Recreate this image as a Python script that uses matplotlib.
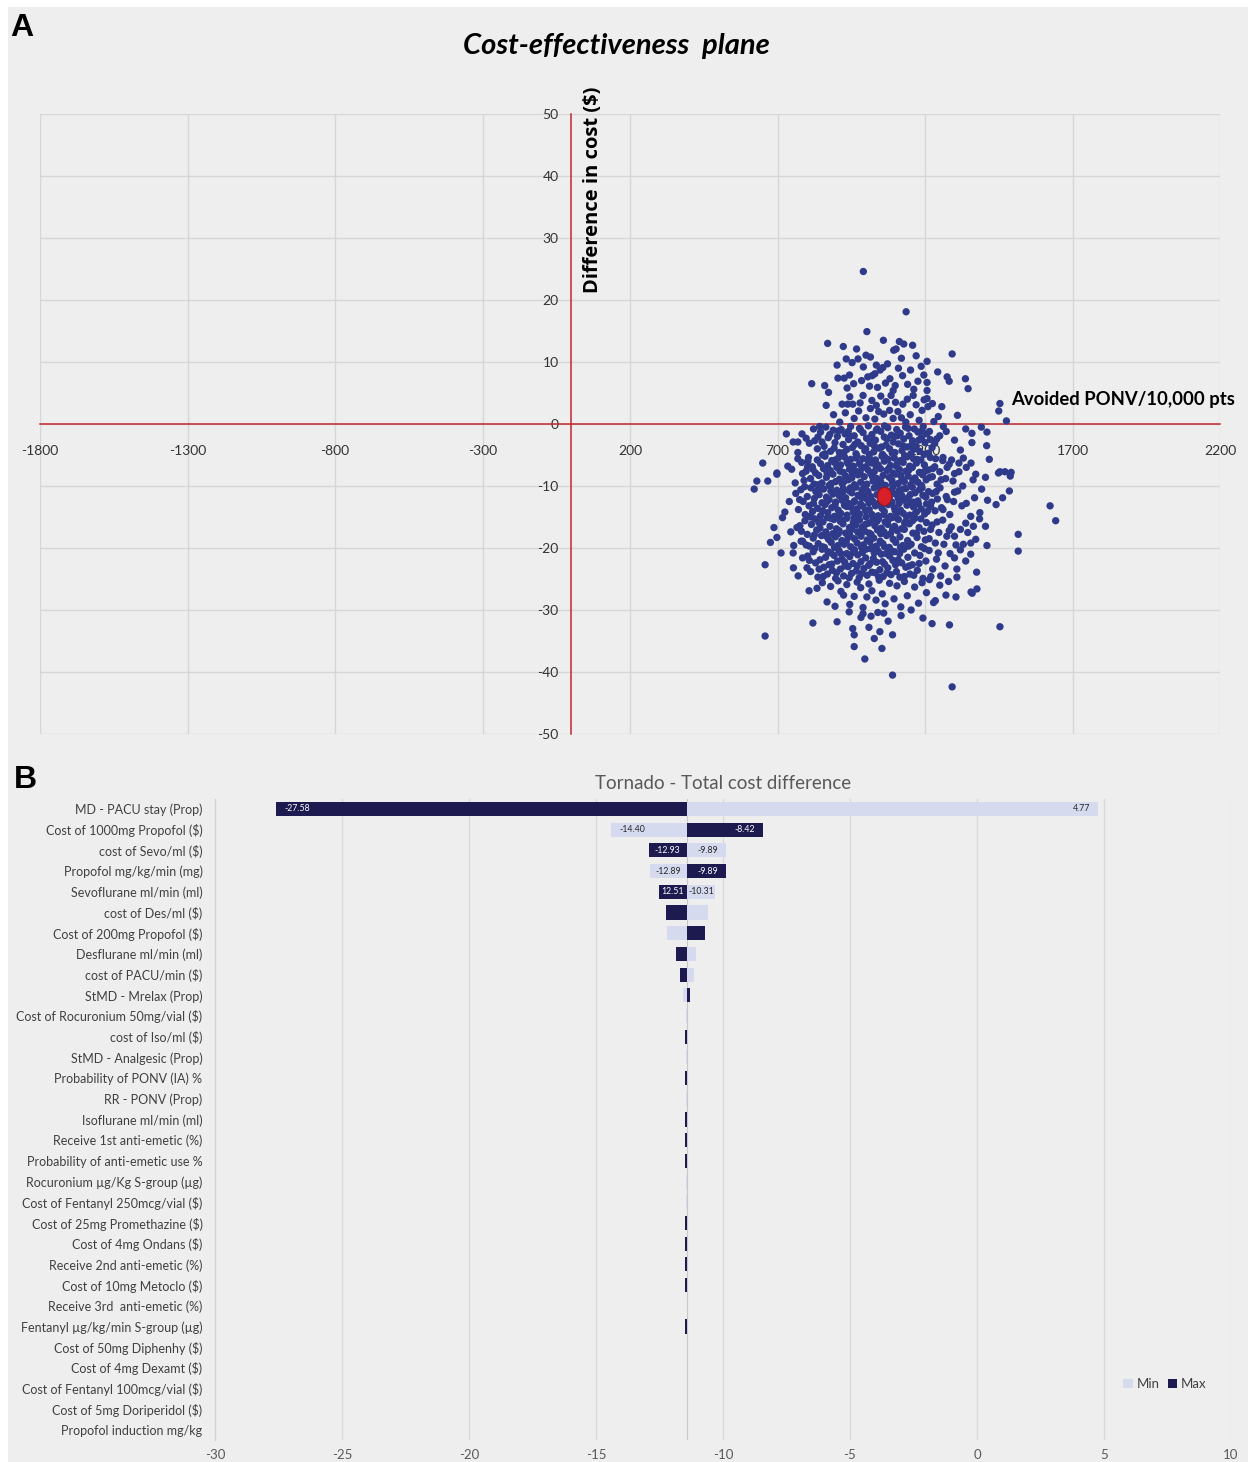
import numpy as np
import matplotlib
matplotlib.use("Agg")
import matplotlib.pyplot as plt
from matplotlib.path import Path
from matplotlib.transforms import Affine2D
from matplotlib.patches import Rectangle

plt.rcParams["axes.unicode_minus"] = False

# ---------------- DATA: cost-effectiveness plane (avoided PONV / 10,000 pts, difference in cost $) -------------
pts_above5 = [(991,24.6),(1136,18.1),(1003,14.9),(870,13.0),(923,12.5),(968,12.1),(1059,13.5),(1094,11.9),
    (1113,13.3),(1128,12.9),(1158,12.7),(1102,12.1),(1292,11.3),(1207,10.1),(933,10.5),(973,10.5),(1000,11.1),
    (902,9.5),(991,9.2),(1035,9.5),(1048,8.7),(905,7.4),(816,6.5),(860,6.2),(873,5.1),(1243,8.4),(1275,7.6),
    (1282,6.9),(1337,7.3),(1346,5.7),(926,7.4),(944,7.9),(936,5.8),(958,6.5),(1006,7.6),(1021,7.8),(1012,6.1),
    (1039,5.9),(1066,6.6),(1081,7.3),(1092,5.4),(1057,9.1),(1073,9.7),(1110,9.0),(1124,7.8),(1141,6.4),
    (1162,5.6),(1176,6.9),(1196,7.9),(1207,6.7),(1207,5.4),(1151,8.7),(1120,10.6),(985,7.0),(1030,8.1),
    (1099,6.2),(1187,9.3),(953,9.9),(1015,10.8),(1170,11.0)]
pts_0_5 = [(865,3.0),(919,3.2),(938,3.2),(955,3.2),(911,0.3),(1257,2.8),(1310,1.4),(1454,3.3),(1450,2.1),
    (1476,0.5),(1207,4.1),(1210,2.8),(1140,4.0),(1170,3.1),(1150,1.5),(1100,3.5),(1080,2.2),(1050,4.5),
    (1020,3.8),(990,4.6),(975,2.1),(1000,1.0),(1030,0.8),(1060,1.6),(1120,1.0),(1180,0.6),(1230,0.4),
    (960,0.9),(890,1.5),(945,4.4),(1015,2.5),(1085,4.6),(1190,2.2),(1125,3.2),(1035,3.0),(1068,3.6),
    (1108,2.0),(1160,4.6),(1197,3.9),(1135,0.3),(930,1.8),(1245,1.2),(1043,2.0),(1092,0.9),(980,3.4),(1225,3.3)]
pts_m5_0 = [(730,-1.6),(753,-2.9),(769,-2.9),(783,-1.6),(797,-2.3),(808,-3.1),(837,-2.1),(851,-2.9),
    (769,-4.6),(1391,-0.5),(1410,-1.3),(1359,-1.5),(1359,-3.0),(1409,-3.5),(1262,-0.4),(1250,-1.9),
    (1272,-1.2),(1240,-2.4),(1300,-2.6),(1320,-4.2),(1338,-0.8),
    (822,-0.8),(835,-4.0),(846,-1.3),(858,-3.6),(864,-0.5),(872,-2.2),(880,-4.4),(889,-1.0),(895,-3.0),
    (903,-2.0),(910,-4.6),(916,-0.9),(922,-3.3),(929,-1.6),(935,-4.1),(941,-2.5),(948,-0.4),(954,-3.8),
    (960,-1.9),(966,-4.8),(972,-2.9),(978,-0.7),(984,-3.5),(990,-1.4),(996,-4.3),(1002,-2.3),(1008,-0.3),
    (1014,-3.1),(1020,-1.7),(1026,-4.5),(1032,-2.6),(1038,-0.8),(1044,-3.9),(1050,-1.2),(1056,-4.9),
    (1062,-2.1),(1068,-3.4),(1074,-0.6),(1080,-4.0),(1086,-1.8),(1092,-2.9),(1098,-4.6),(1104,-0.9),
    (1110,-3.2),(1116,-1.5),(1122,-4.3),(1128,-2.4),(1134,-0.5),(1140,-3.7),(1146,-1.9),(1152,-4.8),
    (1158,-2.7),(1164,-0.8),(1170,-3.6),(1176,-1.3),(1182,-4.4),(1188,-2.2),(1194,-0.4),(1200,-3.0),
    (1206,-1.6),(1212,-4.7),(1218,-2.5),(1224,-3.8),(1190,-1.1),(1097,-2.0),(1011,-4.9),(940,-1.2),
    (1063,-0.3),(1156,-3.3),(1029,-3.6)]
pts_m10_m5 = [(782,-6.2),(790,-9.1),(797,-7.6),(805,-5.4),(812,-8.8),(818,-6.9),(824,-9.7),(829,-7.9),
    (835,-5.8),(840,-8.3),(846,-6.4),(851,-9.5),(856,-7.2),(861,-5.2),(866,-8.6),(870,-6.7),(875,-9.9),
    (879,-7.5),(884,-5.9),(888,-8.1),(893,-6.2),(897,-9.3),(901,-7.0),(906,-5.5),(910,-8.9),(914,-6.6),
    (919,-9.6),(923,-7.8),(927,-5.3),(931,-8.4),(936,-6.1),(940,-9.0),(944,-7.3),(948,-5.7),(952,-8.7),
    (957,-6.8),(961,-9.8),(965,-7.6),(969,-5.1),(973,-8.2),(978,-6.4),(982,-9.4),(986,-7.1),(990,-5.6),
    (994,-8.5),(999,-6.9),(1003,-9.7),(1007,-7.4),(1011,-5.4),(1016,-8.0),(1020,-6.3),(1024,-9.2),
    (1028,-7.7),(1032,-5.8),(1037,-8.8),(1041,-6.6),(1045,-9.5),(1049,-7.2),(1054,-5.2),(1058,-8.3),
    (1062,-6.0),(1066,-9.9),(1071,-7.5),(1075,-5.7),(1079,-8.6),(1083,-6.7),(1088,-9.1),(1092,-7.9),
    (1096,-5.5),(1100,-8.1),(1105,-6.5),(1109,-9.6),(1113,-7.3),(1117,-5.9),(1122,-8.9),(1126,-6.2),
    (1130,-9.3),(1135,-7.6),(1139,-5.3),(1143,-8.4),(1148,-6.8),(1152,-9.8),(1157,-7.0),(1161,-5.6),
    (1166,-8.7),(1171,-6.3),(1176,-9.4),(1181,-7.8),(1186,-5.8),(1192,-8.2),(1198,-6.6),(1204,-9.0),
    (1211,-7.4),(1218,-5.4),(1225,-8.5),(1233,-6.9),(1241,-9.7),(1250,-7.7),(1260,-5.9),(1270,-8.8),
    (1282,-6.5),(1295,-9.2),(1226,-7.2),(1188,-7.9),
    (650,-6.3),(698,-7.9),(748,-7.3),(769,-5.6),(802,-6.9),(630,-9.2),(667,-9.2),(698,-8.1),(1418,-5.7),
    (1356,-6.3),(1315,-6.3),(1454,-7.7),(1471,-7.7),(1492,-7.8),(1489,-8.4),(1449,-7.9),(1405,-8.6),
    (1363,-9.0),(1315,-7.7),(1261,-5.4),(1372,-8.1),(1340,-7.0),(1330,-5.5),(760,-9.5),(735,-6.8),(1300,-8.0)]
pts_m15_m10 = [(762,-11.2),(771,-13.8),(779,-10.6),(787,-12.5),(794,-14.6),(801,-11.7),(807,-13.2),
    (813,-10.3),(819,-14.1),(825,-12.0),(830,-10.9),(836,-13.6),(841,-11.4),(846,-14.8),(851,-12.7),
    (856,-10.5),(861,-13.0),(866,-11.8),(870,-14.3),(875,-12.2),(879,-10.1),(884,-13.5),(888,-11.3),
    (893,-14.9),(897,-12.6),(901,-10.7),(906,-13.9),(910,-11.6),(914,-14.4),(919,-12.3),(923,-10.4),
    (927,-13.1),(931,-11.9),(936,-14.7),(940,-12.8),(944,-10.8),(948,-13.4),(952,-11.1),(957,-14.2),
    (961,-12.4),(965,-10.2),(969,-13.7),(973,-11.5),(978,-14.5),(982,-12.9),(986,-10.6),(990,-13.3),
    (994,-11.2),(999,-14.0),(1003,-12.1),(1007,-10.9),(1011,-13.8),(1016,-11.7),(1020,-14.6),(1024,-12.5),
    (1028,-10.3),(1032,-13.2),(1037,-11.4),(1041,-14.8),(1045,-12.7),(1049,-10.5),(1054,-13.6),(1058,-11.0),
    (1062,-14.1),(1066,-12.2),(1071,-10.8),(1075,-13.0),(1079,-11.8),(1083,-14.9),(1088,-12.6),(1092,-10.1),
    (1096,-13.5),(1100,-11.3),(1105,-14.3),(1109,-12.0),(1113,-10.7),(1117,-13.9),(1122,-11.6),(1126,-14.4),
    (1130,-12.3),(1135,-10.4),(1139,-13.1),(1143,-11.9),(1148,-14.7),(1152,-12.8),(1157,-10.2),(1161,-13.4),
    (1166,-11.1),(1171,-14.2),(1176,-12.4),(1181,-10.6),(1187,-13.7),(1193,-11.5),(1199,-14.5),(1205,-12.9),
    (1212,-10.9),(1219,-13.3),(1226,-11.2),(1234,-14.0),(1242,-12.1),(1251,-10.3),(1261,-13.8),(1272,-11.7),
    (1284,-14.6),(1297,-12.5),(1311,-10.8),(1325,-13.2),(1203,-11.8),(1160,-12.6),
    (621,-10.5),(1624,-13.2),(1441,-13.0),(1463,-11.9),(1486,-10.8),(1392,-10.5),(1368,-11.9),(1386,-14.3),
    (1340,-12.8),(1355,-14.9),(1412,-12.3),(1328,-10.0),(740,-12.5),(725,-14.2),(1045,-11.6)]
pts_m20_m15 = [(776,-16.4),(785,-18.9),(793,-15.6),(801,-17.8),(808,-19.7),(815,-16.2),(821,-18.4),
    (827,-15.3),(833,-17.1),(838,-19.3),(844,-16.8),(849,-18.0),(854,-15.8),(859,-19.9),(864,-17.4),
    (869,-15.1),(873,-18.6),(878,-16.5),(882,-19.1),(887,-17.7),(891,-15.4),(896,-18.2),(900,-16.9),
    (905,-19.6),(909,-17.2),(913,-15.7),(918,-18.8),(922,-16.1),(926,-19.4),(931,-17.6),(935,-15.2),
    (939,-18.3),(944,-16.7),(948,-19.8),(952,-17.0),(957,-15.9),(961,-18.5),(965,-16.3),(970,-19.2),
    (974,-17.5),(978,-15.5),(983,-18.1),(987,-16.6),(991,-19.5),(996,-17.3),(1000,-15.0),(1004,-18.7),
    (1009,-16.0),(1013,-19.0),(1017,-17.8),(1022,-15.6),(1026,-18.4),(1030,-16.4),(1035,-19.7),(1039,-17.1),
    (1043,-15.3),(1048,-18.9),(1052,-16.8),(1057,-19.3),(1061,-17.4),(1065,-15.8),(1070,-18.0),(1074,-16.2),
    (1079,-19.9),(1083,-17.7),(1088,-15.1),(1092,-18.6),(1097,-16.5),(1101,-19.1),(1106,-17.2),(1110,-15.4),
    (1115,-18.2),(1120,-16.9),(1125,-19.6),(1130,-17.0),(1135,-15.7),(1141,-18.8),(1147,-16.1),(1153,-19.4),
    (1159,-17.6),(1166,-15.2),(1173,-18.3),(1180,-16.7),(1188,-19.8),(1196,-17.3),(1205,-15.9),(1214,-18.5),
    (1224,-16.3),(1235,-19.2),(1247,-17.5),(1260,-15.5),(1274,-18.1),(1289,-16.6),(1305,-19.5),(1320,-17.0),
    (717,-15.1),(688,-16.7),(698,-18.3),(676,-19.1),(766,-16.7),(780,-18.9),(1643,-15.6),(1516,-17.8),
    (1405,-16.5),(1364,-16.5),(1338,-16.0),(1300,-18.1),(1330,-19.4),(1355,-19.2),(1345,-17.5),(1372,-18.6),
    (1410,-19.6),(1385,-15.3),(745,-17.4),(755,-19.6)]
pts_m25_m20 = [(802,-21.3),(812,-23.8),(821,-20.6),(829,-22.4),(837,-24.7),(844,-21.9),(851,-20.2),
    (857,-23.1),(863,-21.5),(869,-24.2),(875,-22.7),(881,-20.8),(886,-23.6),(892,-21.2),(897,-24.9),
    (903,-22.1),(908,-20.4),(913,-23.4),(919,-21.8),(924,-24.5),(929,-22.9),(935,-20.9),(940,-23.0),
    (945,-21.4),(951,-24.1),(956,-22.5),(961,-20.3),(967,-23.7),(972,-21.1),(977,-24.8),(983,-22.2),
    (988,-20.7),(993,-23.3),(999,-21.6),(1004,-24.4),(1009,-22.8),(1015,-20.1),(1020,-23.9),(1025,-21.7),
    (1031,-24.0),(1036,-22.3),(1041,-20.5),(1047,-23.5),(1052,-21.0),(1058,-24.6),(1063,-22.6),(1069,-20.9),
    (1074,-23.2),(1080,-21.3),(1085,-24.3),(1091,-22.0),(1097,-20.6),(1103,-23.8),(1109,-21.9),(1115,-24.7),
    (1121,-22.4),(1128,-20.2),(1135,-23.1),(1142,-21.5),(1149,-24.2),(1157,-22.7),(1165,-20.8),(1174,-23.6),
    (1183,-21.2),(1193,-24.9),(1203,-22.1),(1214,-20.4),(1226,-23.4),(1239,-21.8),(1253,-24.5),(1268,-22.9),
    (1285,-20.9),(712,-20.8),(658,-22.7),(753,-20.8),(754,-23.2),(800,-23.2),(785,-21.6),(1516,-20.5),
    (1338,-22.1),(1300,-21.6),(1308,-23.4),(1308,-24.7),(1320,-20.3),(1355,-21.0),(1375,-23.9),(770,-24.5)]
pts_m30_m25 = [(807,-26.9),(834,-26.5),(924,-27.6),(960,-27.8),(982,-26.4),(1003,-27.9),(1034,-28.4),
    (1229,-28.8),(1271,-27.6),(1305,-27.9),(1356,-27.1),(1376,-26.6),(1360,-27.3),(1235,-28.5),
    (852,-25.6),(868,-28.7),(880,-26.2),(895,-29.4),(905,-25.3),(915,-27.0),(935,-25.9),(945,-29.1),
    (970,-25.5),(990,-29.6),(1010,-25.8),(1020,-26.9),(1045,-25.2),(1055,-27.4),(1065,-29.0),(1080,-25.7),
    (1095,-28.2),(1105,-26.1),(1118,-29.5),(1130,-25.4),(1140,-27.7),(1165,-26.3),(1178,-28.9),(1190,-25.6),
    (1205,-27.2),(1215,-25.1),(1250,-26.0),(1280,-25.4)]
pts_below30 = [(820,-32.1),(658,-34.2),(902,-31.9),(943,-30.3),(983,-31.2),(960,-34.0),(960,-35.9),
    (996,-37.9),(1017,-31.0),(1047,-33.5),(1028,-34.6),(1054,-36.2),(1090,-34.0),(1090,-40.5),(1454,-32.7),
    (1292,-42.4),(1283,-32.4),(1224,-32.2),(1193,-31.3),(1119,-30.9),(1153,-30.0),(1060,-30.5),(1010,-32.8),
    (1075,-31.8),(955,-33.0),(1040,-30.4),(990,-30.6)]
pts_core_extra = [(826,-2.7),(843,-0.4),(861,-4.8),(877,-1.7),(892,-3.9),(907,-1.1),(925,-4.6),(944,-2.0),
    (962,-3.3),(981,-0.9),(999,-4.0),(1017,-2.8),(1035,-1.0),(1053,-3.7),(1071,-2.4),(1089,-4.7),(1107,-1.9),
    (1125,-3.5),(1143,-0.7),(1161,-4.1),(1179,-2.6),(1197,-4.9),(1215,-1.2),(1233,-3.1),
    (785,-8.0),(803,-6.0),(820,-7.3),(838,-9.8),(853,-5.0),(868,-7.9),(882,-9.6),(896,-5.8),(912,-7.6),
    (925,-9.3),(939,-6.4),(954,-8.0),(967,-5.5),(980,-7.8),(996,-9.9),(1009,-6.2),(1022,-8.5),(1035,-7.0),
    (1050,-9.3),(1063,-5.3),(1077,-7.2),(1090,-9.7),(1103,-6.8),(1118,-8.3),(1131,-5.1),(1146,-7.4),
    (1159,-9.1),(1173,-5.7),(1188,-9.9),(1200,-7.6),(1216,-8.6),(1236,-5.6),(1255,-9.0),(1275,-7.0),(1290,-5.8),
    (775,-12.2),(792,-10.1),(809,-14.9),(822,-12.8),(838,-10.6),(853,-14.0),(868,-12.5),(881,-10.8),
    (895,-13.1),(908,-14.8),(921,-11.0),(934,-13.3),(947,-10.3),(959,-12.6),(972,-14.8),(985,-11.9),
    (998,-10.4),(1010,-12.7),(1023,-14.9),(1036,-10.1),(1048,-13.0),(1061,-14.6),(1074,-12.0),(1087,-10.7),
    (1099,-14.0),(1112,-12.8),(1125,-10.5),(1137,-14.9),(1150,-11.4),(1163,-14.6),(1178,-12.9),(1190,-10.3),
    (1208,-14.1),(1222,-12.6),(1238,-10.9),(1256,-13.5),(1276,-12.2),(1300,-11.0),
    (781,-17.3),(797,-19.5),(812,-15.0),(825,-17.9),(840,-15.9),(852,-19.8),(866,-18.1),(880,-15.2),
    (893,-19.9),(906,-17.7),(920,-15.5),(933,-19.0),(946,-18.0),(959,-15.2),(972,-17.4),(985,-19.9),
    (998,-16.2),(1011,-17.6),(1024,-19.9),(1037,-15.7),(1050,-17.7),(1063,-19.8),(1076,-15.4),(1090,-17.0),
    (1103,-15.1),(1117,-19.9),(1131,-16.0),(1144,-19.7),(1158,-15.6),(1171,-17.6),(1186,-15.3),(1201,-18.7),
    (1219,-17.0),(1241,-15.8),(1264,-19.4),(1282,-17.2),
    (808,-22.0),(826,-20.1),(841,-23.4),(855,-24.6),(871,-20.6),(884,-22.6),(900,-24.0),(915,-20.9),
    (928,-22.3),(943,-24.8),(957,-20.7),(970,-22.9),(986,-24.1),(1000,-20.2),(1014,-22.5),(1028,-20.8),
    (1043,-24.7),(1056,-22.2),(1071,-24.0),(1085,-20.4),(1100,-22.7),(1114,-20.9),(1130,-24.6),(1146,-22.9),
    (1162,-24.4),(1180,-22.5),(1198,-20.1),(1220,-24.6),(1245,-20.8)]
mean_point = (1061, -11.6)

x_ticks_ce = [-1800, -1300, -800, -300, 200, 700, 1200, 1700, 2200]
y_ticks_ce = [-50, -40, -30, -20, -10, 0, 10, 20, 30, 40, 50]

# ---------------- DATA: tornado ----------------
params = ["MD - PACU stay (Prop)", "Cost of 1000mg Propofol ($)", "cost of Sevo/ml ($)",
    "Propofol mg/kg/min (mg)", "Sevoflurane ml/min (ml)", "cost of Des/ml ($)", "Cost of 200mg Propofol ($)",
    "Desflurane ml/min (ml)", "cost of PACU/min ($)", "StMD - Mrelax (Prop)", "Cost of Rocuronium 50mg/vial ($)",
    "cost of Iso/ml ($)", "StMD - Analgesic (Prop)", "Probability of PONV (IA) %", "RR - PONV (Prop)",
    "Isoflurane ml/min (ml)", "Receive 1st anti-emetic (%)", "Probability of anti-emetic use %",
    "Rocuronium µg/Kg S-group (µg)", "Cost of Fentanyl 250mcg/vial ($)", "Cost of 25mg Promethazine ($)",
    "Cost of 4mg Ondans ($)", "Receive 2nd anti-emetic (%)", "Cost of 10mg Metoclo ($)",
    "Receive 3rd  anti-emetic (%)", "Fentanyl µg/kg/min S-group (µg)", "Cost of 50mg Diphenhy ($)",
    "Cost of 4mg Dexamt ($)", "Cost of Fentanyl 100mcg/vial ($)", "Cost of 5mg Doriperidol ($)",
    "Propofol induction mg/kg"]
base_cost = -11.43
min_vals = [4.77, -14.40, -9.89, -12.89, -10.31, -10.60, -12.20, -11.05, -11.14, -11.58,
            -11.47, -11.41, -11.47, -11.41, -11.47, -11.41, -11.41, -11.41, -11.47, -11.47,
            -11.41, -11.41, -11.41, -11.41, -11.43, -11.41, -11.43, -11.43, -11.43, -11.43, -11.43]
max_vals = [-27.58, -8.42, -12.93, -9.89, -12.51, -12.24, -10.69, -11.86, -11.71, -11.31,
            -11.41, -11.48, -11.41, -11.48, -11.41, -11.48, -11.48, -11.48, -11.41, -11.41,
            -11.48, -11.48, -11.48, -11.48, -11.43, -11.48, -11.43, -11.43, -11.43, -11.43, -11.43]
min_labels = ["4.77", "-14.40", "-9.89", "-12.89", "-10.31"]
max_labels = ["-27.58", "-8.42", "-12.93", "-9.89", "12.51"]
x_ticks_tor = [-30, -25, -20, -15, -10, -5, 0, 5, 10]

# ---------------- STYLE ----------------
W, H = 1248, 1462
BG = "#EEEEEE"
CAL = ["Lato", "DejaVu Sans"]
OPEN = ["Open Sans", "DejaVu Sans"]
DOT = "#2F3B8A"
REDLINE = "#C0272D"
GRID = "#D6D6D6"
LIGHT = "#D5DAEE"
DARK = "#1C1A4E"

fig = plt.figure(figsize=(W / 100, H / 100), dpi=100, facecolor="white")
fig.patches.append(Rectangle((8 / W, 0), 1 - 8 / W, 1 - 7 / H, transform=fig.transFigure,
                             facecolor=BG, edgecolor="none", zorder=-10))

def fx(px):
    return px / W

def fy(py):
    return 1 - py / H

# ---------------- Panel A ----------------
ax = fig.add_axes([fx(40), fy(734), (1220 - 40) / W, (734 - 114) / H])
ax.set_facecolor("none")
ax.set_xlim(x_ticks_ce[0], x_ticks_ce[-1])
ax.set_ylim(y_ticks_ce[0], y_ticks_ce[-1])
ax.set_xticks(x_ticks_ce)
ax.set_yticks(y_ticks_ce)
ax.grid(True, color=GRID, lw=1.0, zorder=0)
for gl in ax.get_xgridlines() + ax.get_ygridlines():
    gl.set_clip_on(False)
for s in ["top", "right"]:
    ax.spines[s].set_visible(False)
ax.spines["bottom"].set_position(("data", 0))
ax.spines["left"].set_position(("data", 0))
for s in ["bottom", "left"]:
    ax.spines[s].set_color(REDLINE)
    ax.spines[s].set_linewidth(1.1)
    ax.spines[s].set_zorder(2.2)
ax.tick_params(axis="both", length=0, labelsize=10, labelcolor="#333333")
ax.tick_params(axis="x", pad=15)
ax.tick_params(axis="y", pad=9)
for lab in ax.get_xticklabels() + ax.get_yticklabels():
    lab.set_family(CAL)

all_pts = np.array(pts_above5 + pts_0_5 + pts_m5_0 + pts_m10_m5 + pts_m15_m10 + pts_m20_m15 +
                   pts_m25_m20 + pts_m30_m25 + pts_below30 + pts_core_extra, dtype=float)
ax.scatter(all_pts[:, 0], all_pts[:, 1], s=28, color=DOT, edgecolors="none", zorder=3, clip_on=False)
ell = Path.unit_circle().transformed(Affine2D().scale(0.78, 1.0))
ax.scatter([mean_point[0]], [mean_point[1]], marker=ell, s=170, color="#D8202A",
           edgecolors="#A5141B", linewidths=0.8, zorder=5)

fig.text(fx(616), fy(46), "Cost-effectiveness  plane", fontsize=21, fontweight="bold", fontstyle="italic",
         family=CAL, ha="center", va="center", color="black")
fig.text(fx(22), fy(28), "A", fontsize=23, fontweight="bold", family=["Liberation Sans", "DejaVu Sans"],
         ha="center", va="center")
fig.text(fx(593), fy(190), "Difference in cost ($)", rotation=90, fontsize=14.5, fontweight="bold",
         family=OPEN, ha="center", va="center")
fig.text(fx(1123), fy(400), "Avoided PONV/10,000 pts", fontsize=13.3, fontweight="bold",
         family=CAL, ha="center", va="center")

# ---------------- Panel B ----------------
fig.text(fx(25), fy(780), "B", fontsize=23, fontweight="bold", family=["Liberation Sans", "DejaVu Sans"],
         ha="center", va="center")
bx = fig.add_axes([fx(215), fy(1440.4), (1231 - 215) / W, (1440.4 - 798.6) / H])
bx.set_facecolor("none")
n = len(params)
ypos = np.arange(n)
bar_h = 0.68
mins = np.array(min_vals)
maxs = np.array(max_vals)
bx.barh(ypos, mins - base_cost, left=base_cost, height=bar_h, color=LIGHT, label="Min", zorder=3)
bx.barh(ypos, maxs - base_cost, left=base_cost, height=bar_h, color=DARK, label="Max", zorder=3)
bx.axvline(base_cost, color="#C8C8C8", lw=0.8, zorder=2)
bx.set_xlim(x_ticks_tor[0], x_ticks_tor[-1])
bx.set_ylim(n - 0.5, -0.5)
bx.set_xticks(x_ticks_tor)
bx.set_yticks(ypos)
bx.set_yticklabels(params, family=CAL, fontsize=9, color="#404040")
bx.tick_params(axis="y", length=0, pad=9)
bx.tick_params(axis="x", length=0, pad=6, labelsize=9.5, labelcolor="#595959")
for lab in bx.get_xticklabels():
    lab.set_family(CAL)
bx.grid(True, axis="x", color="#D9D9D9", lw=0.9, zorder=0)
for s in ["top", "right", "bottom"]:
    bx.spines[s].set_visible(False)
bx.spines["left"].set_color("#D0D0D0")
bx.spines["left"].set_linewidth(0.9)
bx.set_title("Tornado - Total cost difference", family=CAL, fontsize=13.5, color="#595959", pad=7)

px_per_unit = bx.get_position().width * W / (x_ticks_tor[-1] - x_ticks_tor[0])
lab_fs = 6.3
def put_label(val, txt, row, color):
    width_px = abs(val - base_cost) * px_per_unit
    txt_px = 0.47 * lab_fs * len(txt) * 100 / 72
    pad_px = 8
    if width_px > txt_px + 2 * pad_px:
        sign = -1 if val < base_cost else 1
        off = -sign * pad_px * 72 / 100
        ha = "left" if val < base_cost else "right"
        bx.annotate(txt, (val, row), xytext=(off, 0), textcoords="offset points", ha=ha, va="center",
                    fontsize=lab_fs, color=color, family=CAL, zorder=5)
    else:
        bx.text((val + base_cost) / 2, row, txt, ha="center", va="center", fontsize=lab_fs,
                color=color, family=CAL, zorder=5)

for i, t in enumerate(min_labels):
    put_label(min_vals[i], t, i, "#262626")
for i, t in enumerate(max_labels):
    put_label(max_vals[i], t, i, "white")

leg = bx.legend(loc="center", bbox_to_anchor=(0.935, 0.088), ncol=2, frameon=False,
                handlelength=0.7, handleheight=0.7, handletextpad=0.3, columnspacing=0.6,
                prop={"family": CAL, "size": 9.5})
for t in leg.get_texts():
    t.set_color("#404040")

fig.savefig("out.png", dpi=100, facecolor=fig.get_facecolor())
